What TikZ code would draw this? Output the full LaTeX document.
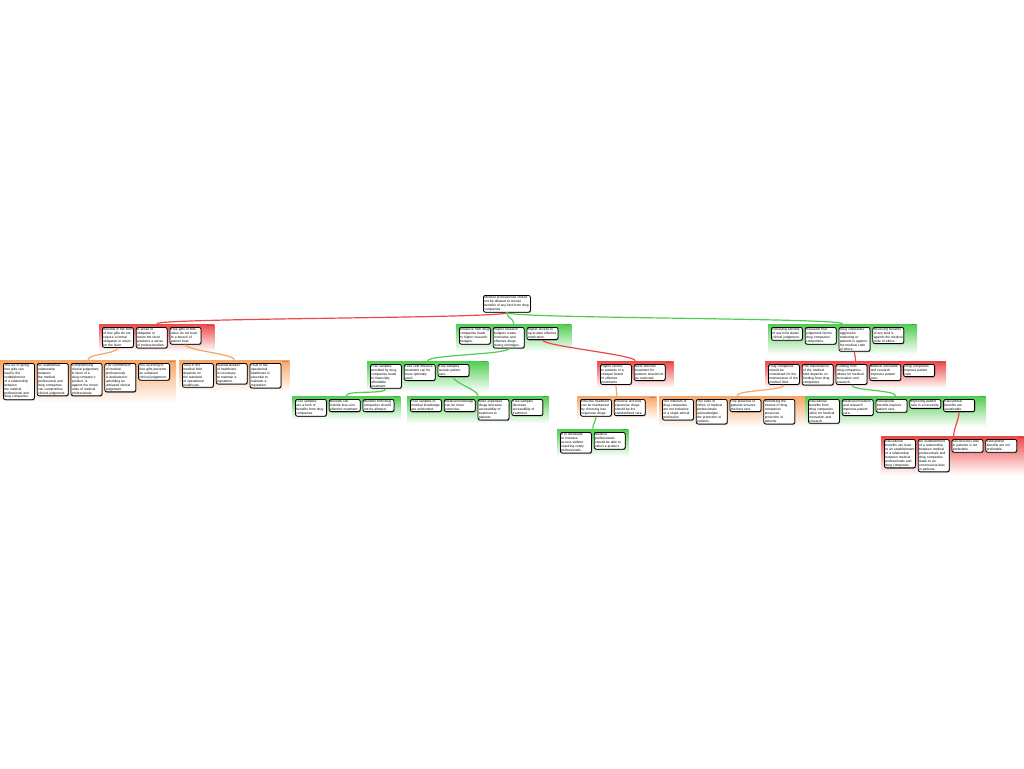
\documentclass[tikz,border=0pt]{standalone}
\usepackage{fontspec}
\setmainfont{Liberation Sans}
\usetikzlibrary{positioning,fit,backgrounds,shadows}
\definecolor{proGreen}{RGB}{80,205,80}
\definecolor{conRed}{RGB}{240,70,70}
\definecolor{rebOrange}{RGB}{248,165,100}
\hyphenpenalty=10000
\exhyphenpenalty=10000

\begin{document}
\begin{tikzpicture}[x=1pt,y=-1pt,
    main node/.style={draw,line width=0.8pt,rounded corners=2pt,fill=white,anchor=north west,text width=29pt,inner sep=1pt,align=left,font=\fontsize{3.3}{3.9}\selectfont,drop shadow={shadow xshift=0.6pt,shadow yshift=-0.8pt,fill=black!80}},
    next node/.style={main node,right=2pt of #1.north east,anchor=north west},
    group/.style={inner sep=3pt,draw=none,bottom color=white},
    group label/.style={anchor=north east,inner sep=1pt,text=black!70,font=\fontsize{1.8}{2}\selectfont},
    pro group/.style={group,top color=proGreen,label={[group label]north east:reason}},
    con group/.style={group,top color=conRed,label={[group label]north east:objection}},
    reb group/.style={group,top color=rebOrange,label={[group label]north east:rebuttal}},
    link/.style={line width=1.2pt,to path={.. controls +(0,6) and +(0,-6) .. (\tikztotarget)}},
    pro link/.style={link,draw=proGreen},
    con link/.style={link,draw=conRed},
    reb link/.style={link,draw=rebOrange}]
    \useasboundingbox (0,0) rectangle (1024,768);

    % main claim
    \node[main node,text width=45pt] (root) at (483,295) {Medical professionals should not be allowed to accept benefits of any kind from drug companies.};

    % first level
    \node[main node] (a1) at (102,327) {Benefits in the form of free gifts do not require a formal obligation in return for the favor.};
    \node[next node=a1] (a2) {A sense of obligation to return the favor weakens a sense of professionalism.};
    \node[next node=a2] (a3) {Free gifts of little value do not lead to a breach of patient trust.};

    \node[main node] (b1) at (459,327) {Influence from drug companies leads to higher research budgets.};
    \node[next node=b1] (b2) {Higher research budgets create innovative and effective drugs during shortages.};
    \node[next node=b2] (b3) {Higher access to up-to-date effective medication.};

    \node[main node] (c1) at (771,327) {Receiving benefits of any kind skews clinical judgement.};
    \node[next node=c1] (c2) {Research that judgement favors drug companies' competitors.};
    \node[next node=c2] (c3) {Drug companies' aggressive marketing to patients is against the medical code of ethics.};
    \node[next node=c3] (c4) {Receiving benefits of any kind is against the medical code of ethics.};

    % second level
    \node[main node] (d1) at (3,363) {The act of giving free gifts can lead to the establishment of a relationship between the medical professional and drug companies.};
    \node[next node=d1] (d2) {An established relationship between the medical professional and drug companies can compromise clinical judgement.};
    \node[next node=d2] (d3) {Compromising clinical judgement, in favor of a drug company's product, is against the moral code of medical professionals.};
    \node[next node=d3] (d4) {The commitment of medical professionals is dedicated to upholding an unbiased clinical judgement.};
    \node[next node=d4] (d5) {The receiving of free gifts prevents an unbiased clinical judgement.};

    \node[main node] (e1) at (182,363) {Trust in the medical field depends on the standard of operational healthcare.};
    \node[next node=e1] (e2) {Standardization of healthcare is necessary to maintain a reputation.};
    \node[next node=e2] (e3) {Trust in the operational healthcare is essential to maintain a reputation.};

    \node[main node] (f1) at (370,364) {Free samples provided by drug companies leads to financially affordable treatment.};
    \node[next node=f1] (f2) {Less cost effective treatment can be more optimally used.};
    \node[next node=f2] (f3) {Free samples sustain patient care.};

    \node[main node] (g1) at (600,364) {Higher access to patients of a cheaper brand of effective treatments.};
    \node[next node=g1] (g2) {More effective treatment for patients should not be restricted.};

    \node[main node] (h1) at (768,364) {Drug companies should be considered for the maintenance of the medical field.};
    \node[next node=h1] (h2) {The maintenance of the medical field depends on funding from drug companies.};
    \node[next node=h2] (h3) {Funding from drug companies allows for medical innovation and research.};
    \node[next node=h3] (h4) {Medical innovation and research improves patient care.};
    \node[next node=h4] (h5) {Drug companies improve patient care.};

    % third level
    \node[main node] (i1) at (295,399) {Free samples are a form of benefits from drug companies.};
    \node[next node=i1] (i2) {Benefits can include less cost effective treatment.};
    \node[next node=i2] (i3) {Benefits from drug companies should not be allowed.};

    \node[main node] (j1) at (410,399) {Free samples of medical knowledge are unfounded.};
    \node[next node=j1] (j2) {Medical knowledge can be more extensive.};
    \node[next node=j2] (j3) {More expensive drugs decrease accessibility of treatment to patients.};
    \node[next node=j3] (j4) {Free samples decrease accessibility of treatment.};

    \node[main node] (k1) at (580,399) {Effective treatment can be maintained by choosing less expensive drugs.};
    \node[next node=k1] (k2) {Effective and less expensive drugs should be the standardized care.};

    \node[main node] (m1) at (662,399) {The interests of drug companies are not indicative of a single ethical profession.};
    \node[next node=m1] (m2) {The code of ethics of medical professionals acknowledges the protection of patients.};
    \node[next node=m2] (m3) {The presence of patients ensures the best care.};
    \node[next node=m3] (m4) {Monitoring the interest of drug companies preserves protection of patients.};

    \node[main node] (n1) at (808,399) {Educational benefits from drug companies allow for medical innovation and research.};
    \node[next node=n1] (n2) {Medical innovation and research improves patient care.};
    \node[next node=n2] (n3) {Educational benefits improve patient care.};
    \node[next node=n3] (n4) {Improving patient care is a necessity.};
    \node[next node=n4] (n5) {Educational benefits are sustainable.};

    % fourth level
    \node[main node] (l1) at (560,432) {It is necessary to increase access without requiring costly professionals.};
    \node[next node=l1] (l2) {Medical professionals should be able to select a product.};

    \node[main node] (o1) at (884,439) {Educational benefits can lead to an establishment of a relationship between medical professionals and drug companies.};
    \node[next node=o1] (o2) {An establishment of a relationship between medical professionals and drug companies leads to an unconscious bias in patients.};
    \node[next node=o2] (o3) {Unconscious bias in patients is not preferable.};
    \node[next node=o3] (o4) {Educational benefits are not preferable.};

    % right ends of the panels, room for the labels
    \coordinate (a3x) at ([xshift=10pt]a3.north east);
    \coordinate (b3x) at ([xshift=10pt]b3.north east);
    \coordinate (c4x) at ([xshift=10pt]c4.north east);
    \coordinate (d5x) at ([xshift=3pt]d5.north east);
    \coordinate (e3x) at ([xshift=5pt]e3.north east);
    \coordinate (f3x) at ([xshift=16pt]f3.north east);
    \coordinate (g2x) at ([xshift=5pt]g2.north east);
    \coordinate (h5x) at ([xshift=8pt]h5.north east);
    \coordinate (i3x) at ([xshift=3pt]i3.north east);
    \coordinate (j4x) at ([xshift=3pt]j4.north east);
    \coordinate (k2x) at ([xshift=8pt]k2.north east);
    \coordinate (m4x) at ([xshift=17pt]m4.north east);
    \coordinate (n5x) at ([xshift=8pt]n5.north east);
    \coordinate (l2x) at ([xshift=0pt]l2.north east);
    \coordinate (o4x) at ([xshift=6pt]o4.north east);

    % group panels
    \begin{scope}[on background layer]
        \node[con group,fit=(a1)(a2)(a3)(a3x)] (pa) {};
        \node[pro group,fit=(b1)(b2)(b3)(b3x)] (pb) {};
        \node[pro group,fit=(c1)(c2)(c3)(c4)(c4x)] (pc) {};
        \node[reb group,fit=(d1)(d2)(d3)(d4)(d5)(d5x)] (pd) {};
        \node[reb group,fit=(e1)(e2)(e3)(e3x)] (pe) {};
        \node[pro group,fit=(f1)(f2)(f3)(f3x)] (pf) {};
        \node[con group,fit=(g1)(g2)(g2x)] (pg) {};
        \node[con group,fit=(h1)(h2)(h3)(h4)(h5)(h5x)] (ph) {};
        \node[pro group,fit=(i1)(i2)(i3)(i3x)] (pi) {};
        \node[pro group,fit=(j1)(j2)(j3)(j4)(j4x)] (pj) {};
        \node[reb group,fit=(k1)(k2)(k2x)] (pk) {};
        \node[reb group,fit=(m1)(m2)(m3)(m4)(m4x)] (pm) {};
        \node[pro group,fit=(n1)(n2)(n3)(n4)(n5)(n5x)] (pn) {};
        \node[pro group,fit=(l1)(l2)(l2x)] (pl) {};
        \node[con group,fit=(o1)(o2)(o3)(o4)(o4x)] (po) {};
    \end{scope}

    % links from claims to their groups
    \path
        (root.south) edge[con link] (pa.north)
        (root.south) edge[pro link] (pb.north)
        (root.south) edge[pro link] (pc.north)
        (a1.south) edge[reb link] (pd.north)
        (a3.south) edge[reb link] (pe.north)
        (b2.south) edge[pro link] (pf.north)
        (b3.south) edge[con link] (pg.north)
        (c3.south) edge[con link] (ph.north)
        (f1.south) edge[pro link] (pi.north)
        (f3.south) edge[pro link] (pj.north)
        (g1.south) edge[reb link] (pk.north)
        (k1.south) edge[pro link] (pl.north)
        (h1.south) edge[reb link] (pm.north)
        (h3.south) edge[pro link] (pn.north)
        (n5.south) edge[con link] (po.north)
        ;
\end{tikzpicture}
\end{document}
